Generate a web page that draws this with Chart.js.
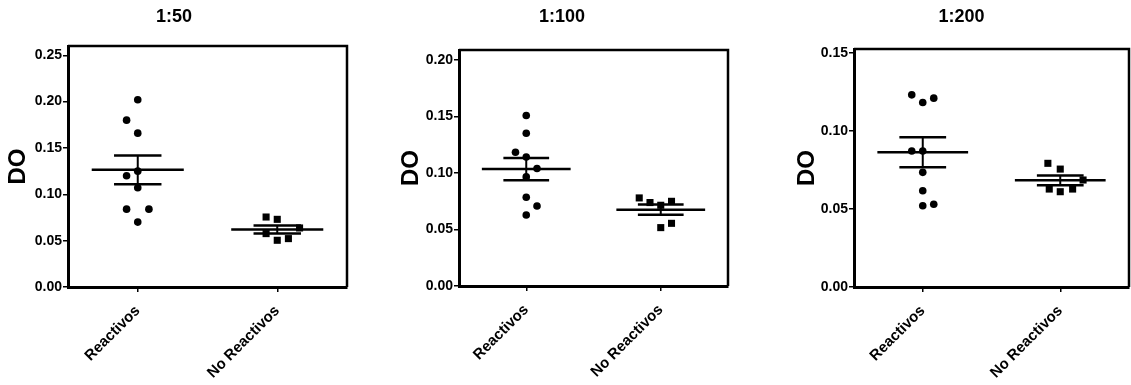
<!DOCTYPE html>
<html><head><meta charset="utf-8">
<script src="https://cdn.jsdelivr.net/npm/chart.js@4.4.1/dist/chart.umd.min.js"></script>
<style>
html,body{margin:0;padding:0;background:#fff;overflow:hidden;width:1131px;height:385px;position:relative;}
canvas{position:absolute;top:0;}
</style></head><body>
<canvas id="c1" width="352" height="385" style="left:0px"></canvas>
<canvas id="c2" width="340" height="385" style="left:393px"></canvas>
<canvas id="c3" width="345" height="385" style="left:789px"></canvas>
<script>
// ---- data ----
const categories = ['Reactivos', 'No Reactivos'];
const titles = ['1:50', '1:100', '1:200'];
const yAxisTitle = 'DO';
const yMaxes = [0.26, 0.209, 0.1526];
const yStep = 0.05;

// 1:50
const react50 = [0.202, 0.180, 0.166, 0.125, 0.120, 0.107, 0.084, 0.084, 0.070];
const react50Jitter = [0, -0.08, 0, 0, -0.08, 0, -0.08, 0.08, 0];
const noReact50 = [0.0755, 0.073, 0.0576, 0.0504, 0.0522, 0.0637];
const noReact50Jitter = [-0.08, 0, -0.08, 0, 0.08, 0.16];

// 1:100
const react100 = [0.151, 0.1353, 0.1185, 0.1143, 0.104, 0.0966, 0.0786, 0.0709, 0.0629];
const react100Jitter = [0, 0, -0.08, 0, 0.08, 0, 0, 0.08, 0];
const noReact100 = [0.078, 0.0739, 0.0715, 0.075, 0.0517, 0.0555];
const noReact100Jitter = [-0.16, -0.08, 0, 0.08, 0, 0.08];

// 1:200
const react200 = [0.1232, 0.1183, 0.1211, 0.0872, 0.0872, 0.0735, 0.0617, 0.0521, 0.0531];
const react200Jitter = [-0.08, 0, 0.08, -0.08, 0, 0, 0, 0, 0.08];
const noReact200 = [0.0793, 0.0756, 0.0628, 0.0611, 0.0628, 0.0686];
const noReact200Jitter = [-0.09, 0, -0.08, 0, 0.09, 0.166];

// ---- layout / style ----
const panels = [
  {id:'c1', r:react50, rj:react50Jitter, n:noReact50, nj:noReact50Jitter, yW:68, xH:98, titleBottom:20, padR:4},
  {id:'c2', r:react100, rj:react100Jitter, n:noReact100, nj:noReact100Jitter, yW:66, xH:99, titleBottom:24, padR:2},
  {id:'c3', r:react200, rj:react200Jitter, n:noReact200, nj:noReact200Jitter, yW:65, xH:98, titleBottom:23, padR:0}
];
const FONT = '"Liberation Sans", Arial, Helvetica, sans-serif';
const MEAN_HALF = 0.33, SEM_HALF = 0.17;

function stats(a){
  const m = a.reduce((s,v)=>s+v,0)/a.length;
  const sd = Math.sqrt(a.reduce((s,v)=>s+(v-m)*(v-m),0)/(a.length-1));
  return {mean:m, sem: sd/Math.sqrt(a.length)};
}
function lineDs(pts, w){
  return {data:pts, showLine:true, borderColor:'#000', borderWidth:w, pointRadius:0, order:0, fill:false};
}
function statDatasets(vals, c){
  const s = stats(vals);
  return [
    lineDs([{x:c-MEAN_HALF,y:s.mean},{x:c+MEAN_HALF,y:s.mean}], 2.5),
    lineDs([{x:c-SEM_HALF,y:s.mean+s.sem},{x:c+SEM_HALF,y:s.mean+s.sem}], 2.5),
    lineDs([{x:c-SEM_HALF,y:s.mean-s.sem},{x:c+SEM_HALF,y:s.mean-s.sem}], 2.5),
    lineDs([{x:c,y:s.mean-s.sem},{x:c,y:s.mean+s.sem}], 2)
  ];
}

const framePlugin = {
  id:'frame',
  beforeDatasetsDraw(chart){
    const {ctx, chartArea:a} = chart;
    ctx.save();
    ctx.strokeStyle = '#000';
    ctx.lineWidth = 2.5;
    ctx.beginPath();
    ctx.moveTo(a.left, a.top);
    ctx.lineTo(a.right, a.top);
    ctx.lineTo(a.right, a.bottom);
    ctx.stroke();
    ctx.restore();
  }
};

panels.forEach((p, i) => {
  const datasets = [
    {data: p.r.map((v,k)=>({x:0+p.rj[k], y:v})), pointStyle:'circle', pointRadius:3.8, pointBackgroundColor:'#000', pointBorderWidth:0, order:1},
    {data: p.n.map((v,k)=>({x:1+p.nj[k], y:v})), pointStyle:'rect', pointRadius:5, pointBackgroundColor:'#000', pointBorderWidth:0, order:1},
    ...statDatasets(p.r, 0),
    ...statDatasets(p.n, 1)
  ];
  new Chart(document.getElementById(p.id), {
    type:'scatter',
    data:{datasets},
    plugins:[framePlugin],
    options:{
      responsive:false,
      animation:false,
      events:[],
      layout:{padding:{left:0, right:p.padR, top:0, bottom:0}},
      plugins:{
        legend:{display:false},
        tooltip:{enabled:false},
        title:{display:true, text:titles[i], color:'#000',
               font:{family:FONT, size:18, weight:'bold', lineHeight:1},
               padding:{top:8, bottom:p.titleBottom}}
      },
      scales:{
        x:{
          type:'linear', min:-0.5, max:1.5,
          afterBuildTicks:(s)=>{ s.ticks = categories.map((c,k)=>({value:k})); },
          afterFit:(s)=>{ s.height = p.xH; },
          ticks:{callback:(v)=>categories[v] ?? '', autoSkip:false, minRotation:45, maxRotation:45,
                 color:'#000', padding:10, font:{family:FONT, size:15, weight:'bold'}},
          grid:{drawOnChartArea:false, drawTicks:true, tickLength:5, color:'#000', lineWidth:1.5},
          border:{display:true, color:'#000', width:3}
        },
        y:{
          type:'linear', min:0, max:yMaxes[i],
          afterFit:(s)=>{ s.width = p.yW; },
          ticks:{stepSize:yStep, includeBounds:false, color:'#000', padding:1,
                 callback:(v)=>v.toFixed(2),
                 font:{family:FONT, size:14, weight:'bold'}},
          grid:{drawOnChartArea:false, drawTicks:true, tickLength:5, color:'#000', lineWidth:1.5},
          border:{display:true, color:'#000', width:3},
          title:{display:true, text:yAxisTitle, color:'#000',
                 font:{family:FONT, size:24, weight:'bold', lineHeight:1},
                 padding:{top:6, bottom:0}}
        }
      }
    }
  });
});
</script>
</body></html>
